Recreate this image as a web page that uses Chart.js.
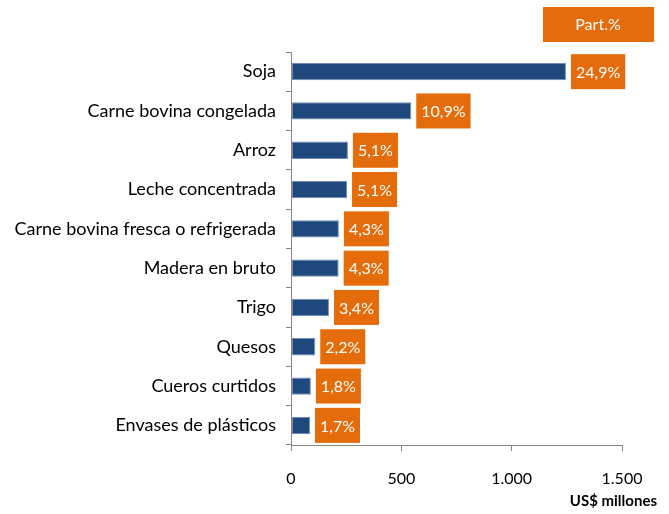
<!DOCTYPE html>
<html>
<head>
<meta charset="utf-8">
<script src="https://cdn.jsdelivr.net/npm/chart.js@4"></script>
<style>
  html, body { margin: 0; padding: 0; background: #fff; }
  #wrap { width: 669px; height: 514px; position: relative; }
</style>
</head>
<body>
<div id="wrap"><canvas id="chart"></canvas></div>
<script>
// data (US$ millones)
const categories = ['Soja', 'Carne bovina congelada', 'Arroz', 'Leche concentrada',
    'Carne bovina fresca o refrigerada', 'Madera en bruto', 'Trigo', 'Quesos',
    'Cueros curtidos', 'Envases de plásticos'];
const values = [1246, 545, 258, 254, 217, 216, 172, 110, 90, 86];
const shares = ['24,9%', '10,9%', '5,1%', '5,1%', '4,3%', '4,3%', '3,4%', '2,2%', '1,8%', '1,7%'];
const xTickLabels = ['0', '500', '1.000', '1.500'];

const FONT = "Lato, 'Open Sans', sans-serif";
const ORANGE = '#E46C0A';

// orange share boxes next to each bar + header + unit label
const shareLabels = {
    id: 'shareLabels',
    afterDatasetsDraw(chart) {
        const ctx = chart.ctx;
        const meta = chart.getDatasetMeta(0);
        ctx.save();
        ctx.font = '16px ' + FONT;
        ctx.textAlign = 'center';
        ctx.textBaseline = 'middle';
        meta.data.forEach((bar, i) => {
            const w = ctx.measureText(shares[i]).width + 10;
            const h = 35;
            const x0 = bar.x + 5;
            ctx.fillStyle = ORANGE;
            ctx.fillRect(x0, bar.y - h / 2, w, h);
            ctx.fillStyle = '#fff';
            ctx.fillText(shares[i], x0 + w / 2, bar.y + 1);
        });

        // header box
        ctx.fillStyle = ORANGE;
        ctx.fillRect(543, 7, 111, 35);
        ctx.fillStyle = '#fff';
        ctx.fillText('Part.%', 598, 25);

        // unit label
        ctx.font = 'bold 15px ' + FONT;
        ctx.fillStyle = '#000';
        ctx.textAlign = 'right';
        ctx.fillText('US$ millones', 657, 501);
        ctx.restore();
    }
};

new Chart(document.getElementById('chart'), {
    type: 'bar',
    data: {
        labels: categories,
        datasets: [{
            data: values,
            backgroundColor: '#1F497D',
            borderColor: '#6F8DB8',
            borderWidth: 1,
            borderSkipped: false,
            barPercentage: 0.44,
            categoryPercentage: 1
        }]
    },
    options: {
        indexAxis: 'y',
        responsive: true,
        maintainAspectRatio: false,
        animation: false,
        layout: { padding: { top: 52, right: 47, left: 0, bottom: 0 } },
        plugins: { legend: { display: false }, tooltip: { enabled: false } },
        scales: {
            x: {
                min: 0,
                max: 1500,
                afterBuildTicks: s => { s.ticks = [0, 500, 1000, 1500].map(v => ({ value: v })); },
                ticks: {
                    color: '#000',
                    font: { family: FONT, size: 16 },
                    padding: 18,
                    maxRotation: 0,
                    callback: (v, i) => xTickLabels[i]
                },
                grid: { drawOnChartArea: false, drawTicks: true, tickLength: 6, color: '#868686' },
                border: { display: true, color: '#868686', width: 1 },
                afterFit: s => { s.height = 514 - 445; }
            },
            y: {
                ticks: {
                    color: '#000',
                    font: { family: FONT, size: 18 },
                    padding: 10
                },
                grid: { drawOnChartArea: false, drawTicks: true, tickLength: 5, color: '#868686', offset: true },
                border: { display: true, color: '#868686', width: 1 },
                afterFit: s => { s.width = 291; }
            }
        }
    },
    plugins: [shareLabels]
});
</script>
</body>
</html>
